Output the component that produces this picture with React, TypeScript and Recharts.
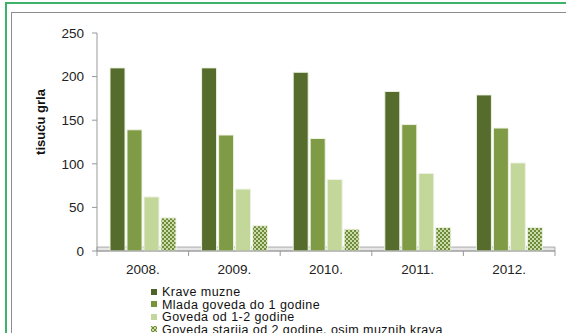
import React from 'react';
import {
  BarChart,
  Bar,
  XAxis,
  YAxis,
  ReferenceArea,
} from 'recharts';

const years = ['2008.', '2009.', '2010.', '2011.', '2012.'];
const kraveMuzne = [210, 210, 205, 183, 179];
const mladaGoveda = [139, 133, 129, 145, 141];
const goveda12 = [62, 71, 82, 89, 101];
const govedaStarija = [38, 29, 25, 27, 27];
const yTicks = [0, 50, 100, 150, 200, 250];

const SERIES = [
  { key: 'krave', name: 'Krave muzne', fill: '#566c2c', legend: '#4f6228' },
  { key: 'mlada', name: 'Mlada goveda do 1 godine', fill: '#7f9b45', legend: '#77933c' },
  { key: 'goveda', name: 'Goveda od 1-2 godine', fill: '#c4d79b', legend: '#c3d69b' },
  {
    key: 'starija',
    name: 'Goveda starija od 2 godine, osim muznih krava',
    fill: 'url(#checker)',
    legend: 'url(#checker)',
  },
];

const data = years.map((year, i) => ({
  year,
  krave: kraveMuzne[i],
  mlada: mladaGoveda[i],
  goveda: goveda12[i],
  starija: govedaStarija[i],
}));

const W = 566;
const H = 333;
const X_AXIS_H = 30;
const MARGIN = { top: 33, right: 11, bottom: 82 - X_AXIS_H, left: 33 };
const Y_AXIS_W = 64;
const BAND = (W - MARGIN.left - MARGIN.right - Y_AXIS_W) / years.length;
const FONT = '"Liberation Sans", Arial, sans-serif';

const YearTick = (props: any) => {
  const { x, y, payload, index } = props;
  return (
    <g>
      <line x1={x - BAND / 2} y1={y - 8} x2={x - BAND / 2} y2={y - 3} stroke='#999' />
      {index === years.length - 1 && (
        <line x1={x + BAND / 2} y1={y - 8} x2={x + BAND / 2} y2={y - 3} stroke='#999' />
      )}
      <text
        x={x}
        y={y + 15}
        textAnchor='middle'
        fontSize={13.5}
        fontFamily={FONT}
        fill='#222'
      >
        {payload.value}
      </text>
    </g>
  );
};

const AxisTitle = (props: any) => {
  const { viewBox } = props;
  const cx = viewBox.x + 7;
  const cy = viewBox.y + viewBox.height / 2 - 20;
  return (
    <text
      x={cx}
      y={cy}
      transform={`rotate(-90, ${cx}, ${cy})`}
      textAnchor='middle'
      dominantBaseline='central'
      fontSize={13}
      fontWeight='bold'
      fontFamily={FONT}
      fill='#111'
    >
      tisuću grla
    </text>
  );
};

const LegendList = () => (
  <div
    style={{
      position: 'absolute',
      left: 150,
      top: 286,
      fontFamily: FONT,
      fontSize: 12.5,
      letterSpacing: '0.45px',
      color: '#111',
      lineHeight: '12.5px',
    }}
  >
    {SERIES.map((s) => (
      <div key={s.key} style={{ display: 'flex', alignItems: 'center', whiteSpace: 'nowrap', height: 12.5 }}>
        <svg width={9} height={9} style={{ marginRight: 3 }}>
          <rect x={1} y={1} width={6} height={6} fill={s.legend} />
        </svg>
        <span>{s.name}</span>
      </div>
    ))}
  </div>
);

const App = () => {
  return (
    <div
      style={{
        position: 'absolute',
        left: 0,
        top: 0,
        width: W,
        height: H,
        background: '#fff',
        overflow: 'hidden',
      }}
    >
      <div
        style={{
          position: 'absolute',
          left: 5,
          top: 2,
          width: W + 20,
          height: H + 20,
          border: '2px solid #3db36a',
        }}
      />
      <div
        style={{
          position: 'absolute',
          left: 11,
          top: 12,
          width: W + 20,
          height: H + 20,
          border: '1px solid #8c8c8c',
          borderRightColor: 'transparent',
        }}
      />
      <div style={{ position: 'absolute', left: 0, top: 0 }}>
        <BarChart
          width={W}
          height={H}
          data={data}
          margin={MARGIN}
          barSize={15}
          barGap={2}
        >
          <defs>
            <pattern id='checker' width={4} height={4} patternUnits='userSpaceOnUse'>
              <rect width={4} height={4} fill='#c9dba6' />
              <rect x={0} y={0} width={2} height={2} fill='#6f8a3a' />
              <rect x={2} y={2} width={2} height={2} fill='#6f8a3a' />
            </pattern>
          </defs>
          <ReferenceArea
            y1={0}
            y2={4.5}
            fill='#e6e6e6'
            fillOpacity={1}
            stroke='#aaa'
            strokeWidth={1}
          />
          <XAxis
            dataKey='year'
            height={X_AXIS_H}
            axisLine={{ stroke: '#999' }}
            tickLine={false}
            tick={<YearTick />}
            interval={0}
          />
          <YAxis
            width={Y_AXIS_W}
            domain={[0, 250]}
            ticks={yTicks}
            axisLine={{ stroke: '#999' }}
            tickLine={{ stroke: '#999' }}
            tickSize={5}
            tickMargin={8}
            tick={{ fontSize: 13.5, fontFamily: FONT, fill: '#222' }}
            label={<AxisTitle />}
          />
          {SERIES.map((s) => (
            <Bar
              key={s.key}
              dataKey={s.key}
              name={s.name}
              fill={s.fill}
              stroke='#eef3e4'
              strokeWidth={1}
              isAnimationActive={false}
            />
          ))}
        </BarChart>
      </div>
      <LegendList />
    </div>
  );
};

export default App;
